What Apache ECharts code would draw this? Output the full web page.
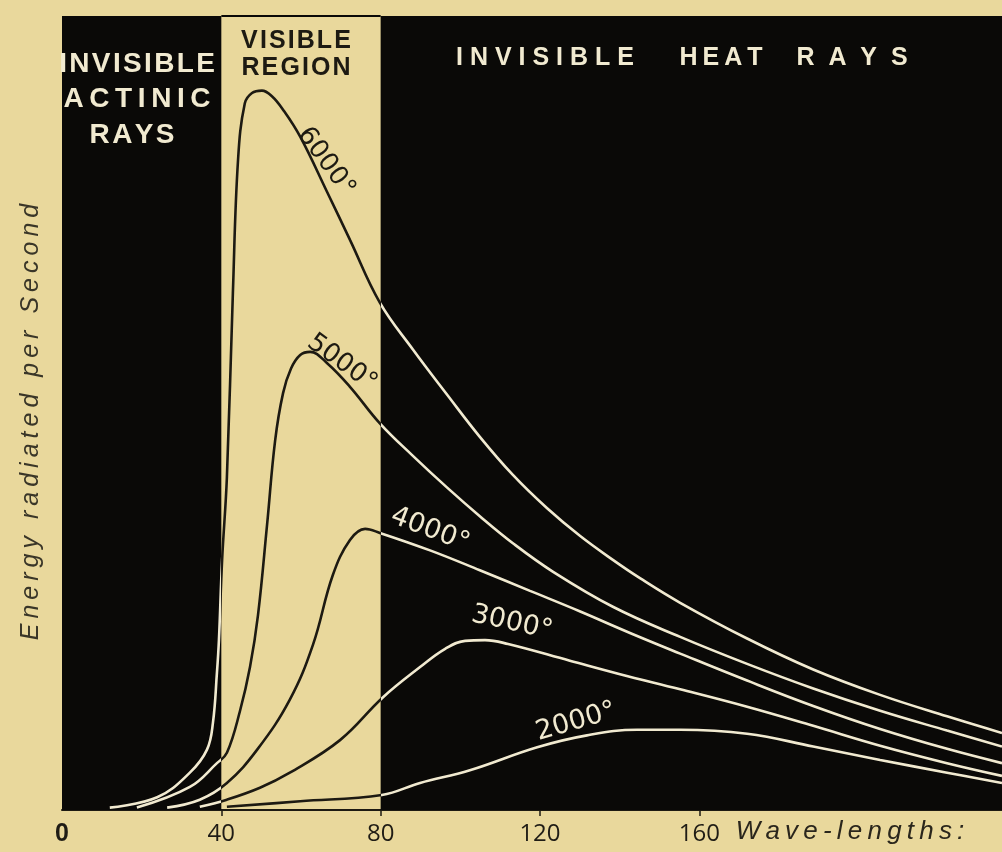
<!DOCTYPE html>
<html>
<head>
<meta charset="utf-8">
<script src="https://cdn.jsdelivr.net/npm/echarts@6/dist/echarts.min.js"></script>
<style>
html,body{margin:0;padding:0;background:#e9d89c;}
#c{width:1002px;height:852px;}
</style>
</head>
<body>
<div id="c"></div>
<script>
// ---- data (wave-length units, energy in arbitrary units 0-100) ----
const curveNames = ['6000°', '5000°', '4000°', '3000°', '2000°'];

const wl6000 = [12.0, 23.9, 32.1, 36.4, 37.9, 38.9, 39.4, 40.2, 41.4, 42.9, 44.2, 45.9, 47.7, 50.2, 52.7, 55.5, 59.8, 66.5, 72.3, 79.8, 88.1, 96.7, 104.9, 113.2, 121.8, 130.1, 138.3, 145.1, 155.2, 172.0, 188.6, 205.4, 222.2, 236];
const en6000 = [0.3, 1.6, 4.7, 7.6, 11.0, 17.3, 21.4, 31.5, 41.9, 65.1, 81.9, 89.0, 90.3, 90.6, 89.9, 88.2, 84.8, 77.9, 71.8, 63.9, 58.0, 52.3, 47.0, 42.2, 38.0, 34.5, 31.5, 29.2, 26.1, 21.6, 17.7, 14.5, 11.8, 9.7];

const wl5000 = [18.8, 32.1, 38.9, 41.4, 44.7, 47.2, 49.2, 51.5, 53.5, 55.5, 57.5, 59.8, 62.3, 66.5, 72.3, 79.8, 88.1, 96.7, 104.9, 113.2, 123.3, 138.3, 155.2, 172.0, 188.6, 205.4, 222.2, 236];
const en5000 = [0.3, 2.9, 5.9, 7.2, 12.5, 18.0, 24.5, 36.0, 46.5, 52.5, 55.6, 57.3, 57.7, 56.3, 53.3, 48.7, 44.6, 40.6, 37.0, 33.6, 30.0, 25.6, 21.8, 18.4, 15.3, 12.5, 10.0, 8.0];

const wl4000 = [26.4, 34.6, 41.4, 49.0, 57.2, 63.0, 68.0, 72.3, 76.1, 79.8, 92.4, 104.9, 117.5, 130.1, 142.6, 155.2, 172.0, 188.6, 205.4, 222.2, 236];
const en4000 = [0.3, 1.3, 3.4, 7.6, 13.9, 20.8, 29.6, 34.0, 35.4, 34.9, 32.7, 30.2, 27.6, 25.0, 22.3, 19.7, 16.3, 13.1, 10.2, 7.7, 5.9];

const wl3000 = [34.6, 41.4, 49.7, 57.2, 69.8, 80.6, 89.9, 96.2, 101.2, 106.2, 112.0, 127.5, 140.1, 155.2, 172.0, 188.6, 205.4, 222.2, 236];
const en3000 = [0.4, 1.3, 2.8, 4.7, 8.8, 14.2, 18.0, 20.3, 21.3, 21.4, 20.9, 18.8, 17.1, 15.2, 13.0, 10.6, 8.1, 5.9, 4.3];

const wl2000 = [41.4, 59.8, 80.3, 89.9, 102.4, 119.3, 131.8, 144.4, 155.2, 172.0, 188.6, 205.4, 222.2, 236];
const en2000 = [0.4, 1.1, 1.9, 3.4, 5.0, 7.9, 9.4, 10.1, 10.1, 9.6, 8.0, 6.3, 4.7, 3.4];

const xTickValues = [40, 80, 120, 160];
const xLabelValues = [0, 40, 80, 120, 160];
const visibleBand = [40, 80];
const xRange = [0, 236];
const yRange = [0, 100];

// ---- styling ----
const PAPER = '#e9d89c';
const INK = '#0a0907';
const LIGHT = '#f1ead0';
const DARK = '#1d1a12';

function zip(xs, ys) { return xs.map((x, i) => [x, ys[i]]); }
const sp = (s, g) => s.split('').join(g);

const curveData = [zip(wl6000, en6000), zip(wl5000, en5000), zip(wl4000, en4000), zip(wl3000, en3000), zip(wl2000, en2000)];

const chart = echarts.init(document.getElementById('c'), null, { renderer: 'canvas' });

const series = [{
  type: 'line',
  name: 'bands',
  data: [],
  silent: true,
  z: 1,
  markArea: {
    silent: true,
    itemStyle: { color: INK, opacity: 1 },
    data: [
      [{ xAxis: xRange[0], yAxis: yRange[0] }, { xAxis: visibleBand[0], yAxis: yRange[1] }],
      [{ xAxis: visibleBand[1], yAxis: yRange[0] }, { xAxis: xRange[1], yAxis: yRange[1] }]
    ]
  },
  markLine: {
    silent: true,
    symbol: 'none',
    label: { show: false },
    lineStyle: { color: INK, width: 2, type: 'solid' },
    data: [[{ coord: [visibleBand[0], yRange[1]] }, { coord: [visibleBand[1], yRange[1]] }]]
  }
}].concat(curveData.map((d, i) => ({
  type: 'line',
  name: curveNames[i],
  data: d,
  showSymbol: false,
  smooth: 0.4,
  silent: true,
  z: 3,
  lineStyle: { width: 2.6 }
})));

function txt(text, x, y, font, fill, rot) {
  return {
    type: 'text', x: x, y: y, rotation: rot || 0, silent: true, z: 10,
    style: { text: text, x: 0, y: 0, font: font, fill: fill, align: 'center', verticalAlign: 'middle', textAlign: 'center', textVerticalAlign: 'middle' }
  };
}

const THIN = '\u2009';
const HAIR = '\u200A';
const bold28 = 'bold 28px "Liberation Sans", Arial, sans-serif';
const bold25 = 'bold 25px "Liberation Sans", Arial, sans-serif';
const num = '26px "DejaVu Sans", sans-serif';
const numL = '27px "DejaVu Sans", sans-serif';

chart.setOption({
  backgroundColor: PAPER,
  animation: false,
  grid: { left: 62, right: 0, top: 16, bottom: 42, containLabel: false },
  xAxis: {
    type: 'value', min: xRange[0], max: xRange[1],
    axisLine: { show: true, onZero: false, lineStyle: { color: DARK, width: 2 } },
    axisTick: { show: true, customValues: xTickValues, length: 6, lineStyle: { color: DARK, width: 1.5 } },
    axisLabel: {
      customValues: xLabelValues, color: '#1f1c15', fontSize: 24, margin: 12,
      fontFamily: '"Open Sans", sans-serif',
      formatter: v => v === 0 ? '{b|0}' : String(v),
      rich: { b: { fontWeight: 'bold', fontSize: 25, fontFamily: '"Liberation Sans", sans-serif', color: '#1f1c15' } }
    },
    splitLine: { show: false }
  },
  yAxis: { type: 'value', min: yRange[0], max: yRange[1], show: false },
  visualMap: {
    show: false, type: 'piecewise', dimension: 0, seriesIndex: [1, 2, 3, 4, 5],
    pieces: [
      { lt: visibleBand[0], color: LIGHT },
      { gte: visibleBand[0], lt: visibleBand[1], color: DARK },
      { gte: visibleBand[1], color: LIGHT }
    ]
  },
  series: series,
  graphic: [
    txt(sp('INVISIBLE', HAIR), 137, 64, bold28, LIGHT),
    txt(sp('ACTINIC', THIN), 137, 99, bold28, LIGHT),
    txt(sp('RAYS', HAIR), 132, 135, bold28, LIGHT),
    txt(sp('VISIBLE', HAIR), 296, 41, bold25, DARK),
    txt(sp('REGION', HAIR), 296, 68, bold25, DARK),
    txt(sp('INVISIBLE', ' '), 545, 58, bold25, LIGHT),
    txt(sp('HEAT', THIN), 721, 58, bold25, LIGHT),
    txt(sp('RAYS', '  '), 852, 58, bold25, LIGHT),
    txt(curveNames[0], 326, 162, num, DARK, -0.935),
    txt(curveNames[1], 342, 363, num, DARK, -0.63),
    txt(curveNames[2], 430, 530, numL, LIGHT, -0.37),
    txt(curveNames[3], 512, 623, numL, LIGHT, -0.22),
    txt(curveNames[4], 576, 722, numL, LIGHT, 0.28),
    txt(sp('Energy radiated per Second', THIN), 31, 422, 'italic 25px "Liberation Sans", Arial, sans-serif', '#3a3628', Math.PI / 2),
    txt(sp('Wave-lengths:', THIN), 850, 832, 'italic 26px "Liberation Sans", Arial, sans-serif', '#2a261c')
  ]
});
</script>
</body>
</html>
